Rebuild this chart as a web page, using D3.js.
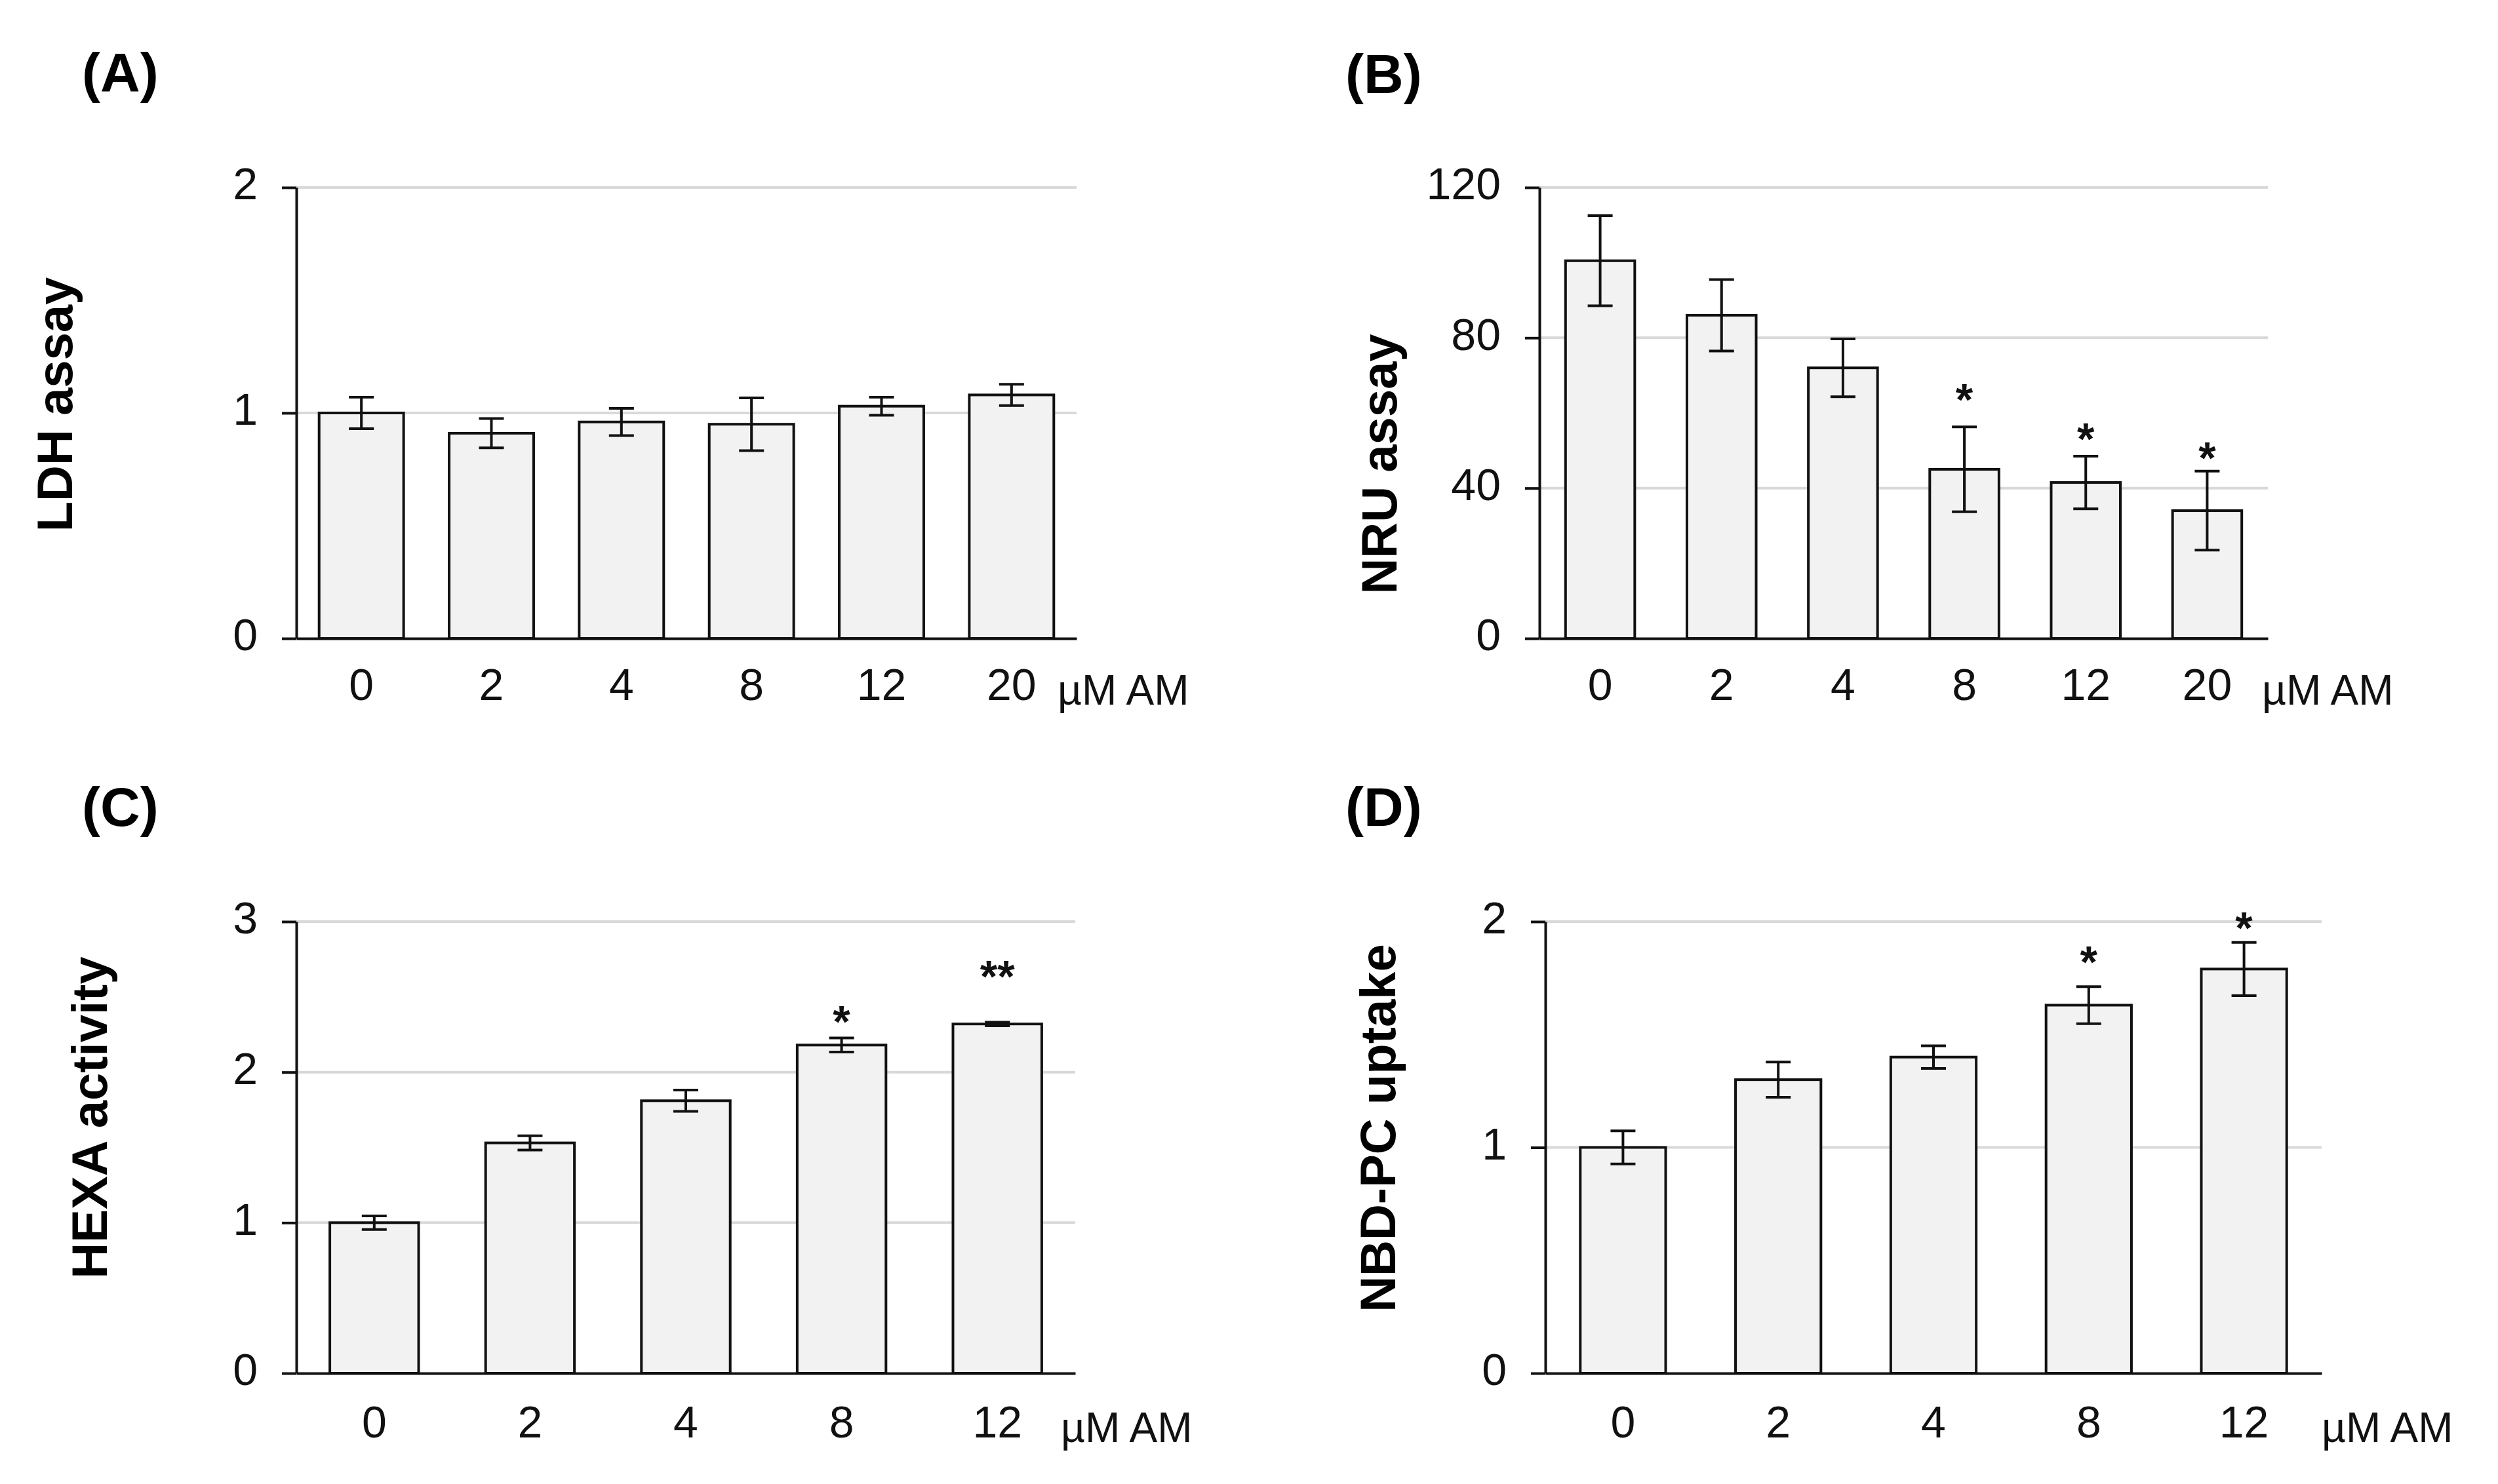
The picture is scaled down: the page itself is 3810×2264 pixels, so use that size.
<!DOCTYPE html>
<html>
<head>
<meta charset="utf-8">
<script src="https://cdn.jsdelivr.net/npm/d3@7"></script>
<style>
  html, body { margin: 0; padding: 0; background: #fff; }
  svg { display: block; font-family: "Liberation Sans", Arial, sans-serif; }
</style>
</head>
<body>
<svg id="fig" width="3810" height="2264" viewBox="0 0 3810 2264"></svg>
<script>
// Values
const ldhDoses = ["0", "2", "4", "8", "12", "20"];
const ldhMean = [1.00, 0.91, 0.96, 0.95, 1.03, 1.08];
const ldhErr = [0.07, 0.065, 0.06, 0.117, 0.04, 0.047];
const ldhSig = ["", "", "", "", "", ""];
const ldhSigY = [null, null, null, null, null, null];
const ldhTicks = [0, 1, 2];

const nruDoses = ["0", "2", "4", "8", "12", "20"];
const nruMean = [100.5, 86, 72, 45, 41.5, 34];
const nruErr = [12, 9.5, 7.7, 11.3, 7, 10.5];
const nruSig = ["", "", "", "*", "*", "*"];
const nruSigY = [null, null, null, 66.5, 56, 51];
const nruTicks = [0, 40, 80, 120];

const hexaDoses = ["0", "2", "4", "8", "12"];
const hexaMean = [1.00, 1.53, 1.81, 2.18, 2.32];
const hexaErr = [0.045, 0.047, 0.071, 0.047, 0.012];
const hexaSig = ["", "", "", "*", "**"];
const hexaSigY = [null, null, null, 2.41, 2.71];
const hexaTicks = [0, 1, 2, 3];

const nbdDoses = ["0", "2", "4", "8", "12"];
const nbdMean = [1.00, 1.30, 1.40, 1.63, 1.79];
const nbdErr = [0.073, 0.078, 0.05, 0.082, 0.118];
const nbdSig = ["", "", "", "*", "*"];
const nbdSigY = [null, null, null, 1.87, 2.02];
const nbdTicks = [0, 1, 2];

const unitLabel = "µM AM";

// Panel layouts (pixel geometry)
const panels = [
    { tag: "(A)", title: "LDH assay", doses: ldhDoses, mean: ldhMean, err: ldhErr, sig: ldhSig, sigY: ldhSigY, ticks: ldhTicks,
      x0: 452, x1: 1642, y0: 974, y1: 286, pad: 0.35,
      tagX: 125, tagY: 140, titleX: 110, titleY: 617, tickY: 1068, unitX: 1613, unitY: 1075 },
    { tag: "(B)", title: "NRU assay", doses: nruDoses, mean: nruMean, err: nruErr, sig: nruSig, sigY: nruSigY, ticks: nruTicks,
      x0: 2348, x1: 3459, y0: 974, y1: 286, pad: 0.43,
      tagX: 2052, tagY: 142, titleX: 2130, titleY: 708, tickY: 1068, unitX: 3450, unitY: 1075 },
    { tag: "(C)", title: "HEXA activity", doses: hexaDoses, mean: hexaMean, err: hexaErr, sig: hexaSig, sigY: hexaSigY, ticks: hexaTicks,
      x0: 452, x1: 1640, y0: 2095, y1: 1406, pad: 0.43,
      tagX: 125, tagY: 1260, titleX: 163, titleY: 1705, tickY: 2193, unitX: 1618, unitY: 2200 },
    { tag: "(D)", title: "NBD-PC uptake", doses: nbdDoses, mean: nbdMean, err: nbdErr, sig: nbdSig, sigY: nbdSigY, ticks: nbdTicks,
      x0: 2357, x1: 3541, y0: 2095, y1: 1406, pad: 0.45,
      tagX: 2052, tagY: 1260, titleX: 2128, titleY: 1721, tickY: 2193, unitX: 3541, unitY: 2200 }
];

const svg = d3.select("#fig");

panels.forEach(p => {
    const g = svg.append("g");
    const rows = p.doses.map((d, i) => ({ dose: d, mean: p.mean[i], err: p.err[i], sig: p.sig[i], sigY: p.sigY[i] }));

    const x = d3.scaleBand().domain(p.doses).range([p.x0, p.x1]).paddingInner(p.pad).paddingOuter(p.pad / 2);
    const y = d3.scaleLinear().domain([p.ticks[0], p.ticks[p.ticks.length - 1]]).range([p.y0, p.y1]);

    // Gridlines
    g.selectAll(".grid")
        .data(p.ticks.filter(t => t > 0))
        .enter()
        .append("line")
        .attr("x1", p.x0)
        .attr("x2", p.x1)
        .attr("y1", d => y(d))
        .attr("y2", d => y(d))
        .attr("stroke", "#d9d9d9")
        .attr("stroke-width", 4);

    // Bars
    g.selectAll(".bar")
        .data(rows)
        .enter()
        .append("rect")
        .attr("x", d => x(d.dose))
        .attr("width", x.bandwidth())
        .attr("y", d => y(d.mean))
        .attr("height", d => y(0) - y(d.mean))
        .attr("fill", "#f2f2f2")
        .attr("stroke", "#111")
        .attr("stroke-width", 4);

    // Error bars
    const cap = 19;
    const eb = g.selectAll(".err")
        .data(rows)
        .enter()
        .append("g")
        .attr("stroke", "#111")
        .attr("stroke-width", 4);
    eb.append("line")
        .attr("x1", d => x(d.dose) + x.bandwidth() / 2)
        .attr("x2", d => x(d.dose) + x.bandwidth() / 2)
        .attr("y1", d => y(d.mean + d.err))
        .attr("y2", d => y(d.mean - d.err));
    eb.append("line")
        .attr("x1", d => x(d.dose) + x.bandwidth() / 2 - cap)
        .attr("x2", d => x(d.dose) + x.bandwidth() / 2 + cap)
        .attr("y1", d => y(d.mean + d.err))
        .attr("y2", d => y(d.mean + d.err));
    eb.append("line")
        .attr("x1", d => x(d.dose) + x.bandwidth() / 2 - cap)
        .attr("x2", d => x(d.dose) + x.bandwidth() / 2 + cap)
        .attr("y1", d => y(d.mean - d.err))
        .attr("y2", d => y(d.mean - d.err));

    // Significance stars
    g.selectAll(".sig")
        .data(rows.filter(d => d.sig))
        .enter()
        .append("text")
        .attr("x", d => x(d.dose) + x.bandwidth() / 2)
        .attr("y", d => y(d.sigY))
        .attr("dy", "0.59em")
        .attr("text-anchor", "middle")
        .attr("font-size", 68)
        .attr("font-weight", "bold")
        .attr("fill", "#111")
        .text(d => d.sig);

    // Y axis
    const yAxis = g.append("g")
        .attr("transform", `translate(${p.x0},0)`)
        .call(d3.axisLeft(y).tickValues(p.ticks).tickFormat(d3.format("d"))
            .tickSize(22).tickSizeOuter(0).tickPadding(37));
    yAxis.select(".domain").attr("stroke", "#111").attr("stroke-width", 4);
    yAxis.selectAll(".tick line").attr("stroke", "#111").attr("stroke-width", 4);
    yAxis.selectAll(".tick text")
        .attr("font-size", 68)
        .attr("font-family", "Liberation Sans, Arial, sans-serif")
        .attr("fill", "#111")
        .attr("dy", "0.26em");

    // X axis
    const xAxis = g.append("g")
        .attr("transform", `translate(0,${p.y0})`)
        .call(d3.axisBottom(x).tickSize(0).tickSizeOuter(0));
    xAxis.select(".domain").attr("stroke", "#111").attr("stroke-width", 4);
    xAxis.selectAll(".tick text")
        .attr("y", p.tickY - p.y0)
        .attr("dy", 0)
        .attr("font-size", 68)
        .attr("font-family", "Liberation Sans, Arial, sans-serif")
        .attr("fill", "#111");

    g.append("text")
        .attr("x", p.unitX)
        .attr("y", p.unitY)
        .attr("font-size", 64)
        .attr("fill", "#111")
        .text(unitLabel);

    // Y title
    g.append("text")
        .attr("transform", `translate(${p.titleX},${p.titleY}) rotate(-90)`)
        .attr("text-anchor", "middle")
        .attr("font-size", 76)
        .attr("font-weight", "bold")
        .attr("fill", "#000")
        .text(p.title);

    // Panel tag
    g.append("text")
        .attr("x", p.tagX)
        .attr("y", p.tagY)
        .attr("font-size", 84)
        .attr("font-weight", "bold")
        .attr("fill", "#000")
        .text(p.tag);
});
</script>
</body>
</html>
